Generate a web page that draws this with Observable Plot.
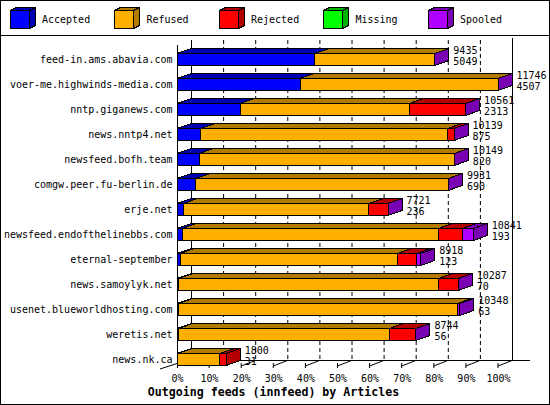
<!DOCTYPE html>
<html>
<head>
<meta charset="utf-8">
<script src="https://cdn.jsdelivr.net/npm/d3@7"></script>
<script src="https://cdn.jsdelivr.net/npm/@observablehq/plot@0.6"></script>
<style>
html, body { margin: 0; padding: 0; background: #fff; }
#wrap { position: relative; width: 550px; height: 405px; overflow: hidden; background: #fff;
  font-family: "DejaVu Sans Mono", "Liberation Mono", monospace; color: #000; }
#border { position: absolute; left: 0; top: 0; width: 550px; height: 405px; box-sizing: border-box;
  border: 1px solid #000; pointer-events: none; z-index: 5; }
#legend { position: absolute; left: 0; top: 0; width: 550px; height: 35px; border-bottom: 1px solid #000; }
.lg-cube { position: absolute; top: 7px; }
.lg-label { position: absolute; top: 14px; font-size: 10px; line-height: 12px; white-space: nowrap; }
#chart { position: absolute; left: 0; top: 36px; }
#title { position: absolute; left: 0; top: 385px; width: 547px; text-align: center; font-weight: bold;
  font-size: 11.6px; line-height: 14px; white-space: nowrap; }
</style>
</head>
<body>
<div id="wrap">
  <div id="legend"></div>
  <div id="chart"></div>
  <div id="title">Outgoing feeds (innfeed) by Articles</div>
  <div id="border"></div>
</div>
<script>
// ---- data ----
const categories = ["Accepted", "Refused", "Rejected", "Missing", "Spooled"];
const colors = ["#0000FF", "#FFAF00", "#FF0000", "#00FF00", "#AF00FF"];
const darkColors = ["#0000B3", "#B37A00", "#B30000", "#00B300", "#7A00B3"];

const feeds = [
  "feed-in.ams.abavia.com",
  "voer-me.highwinds-media.com",
  "nntp.giganews.com",
  "news.nntp4.net",
  "newsfeed.bofh.team",
  "comgw.peer.fu-berlin.de",
  "erje.net",
  "newsfeed.endofthelinebbs.com",
  "eternal-september",
  "news.samoylyk.net",
  "usenet.blueworldhosting.com",
  "weretis.net",
  "news.nk.ca"
];
const totals   = [9435, 11746, 10561, 10139, 10149, 9931, 7721, 10841, 8918, 10287, 10348, 8744, 1800];
const accepted = [5049, 4507, 2313, 875, 820, 690, 236, 193, 123, 70, 63, 56, 31];
const refused  = [4386, 7239, 6187, 9024, 9329, 9241, 6789, 9368, 7938, 9491, 10200, 7712, 1539];
const rejected = [0, 0, 2061, 240, 0, 0, 696, 878, 710, 726, 0, 976, 230];
const missing  = [0, 0, 0, 0, 0, 0, 0, 0, 0, 0, 0, 0, null];
const spooled  = [0, 0, 0, 0, 0, 0, 0, 402, 147, 0, 85, 0, null];
const xTicks   = [0, 10, 20, 30, 40, 50, 60, 70, 80, 90, 100];
const gridTicks = [10, 20, 30, 40, 50, 60, 70, 80, 90];

// ---- legend ----
const legend = document.getElementById("legend");
categories.forEach((c, i) => {
  const left = 9.5 + 104.5 * i;
  const s = d3.create("svg").attr("class", "lg-cube").attr("width", 27).attr("height", 23)
    .style("left", left + "px").attr("shape-rendering", "crispEdges");
  const g = s.append("g").attr("stroke", "#000").attr("stroke-width", 1);
  g.append("polygon").attr("points", "0.5,3.5 19.5,3.5 25.5,0.5 6.5,0.5").attr("fill", darkColors[i]);
  g.append("polygon").attr("points", "19.5,3.5 25.5,0.5 25.5,18.5 19.5,21.5").attr("fill", darkColors[i]);
  g.append("rect").attr("x", 0.5).attr("y", 3.5).attr("width", 19).attr("height", 18).attr("fill", colors[i]);
  legend.appendChild(s.node());
  const lab = document.createElement("div");
  lab.className = "lg-label";
  lab.style.left = (42 + 104.5 * i) + "px";
  lab.textContent = c;
  legend.appendChild(lab);
});

// ---- derived tables ----
const series = [accepted, refused, rejected, missing, spooled];
const maxTotal = d3.max(totals);
const segments = [];
const ends = [];
feeds.forEach((name, r) => {
  let cum = 0, lastK = 0;
  series.forEach((arr, k) => {
    const v = arr[r];
    if (v == null) return;
    lastK = k;
    if (v > 0) segments.push({name, k, x1: cum / maxTotal * 100, x2: (cum + v) / maxTotal * 100});
    cum += v;
  });
  ends.push({name, k: lastK, end: totals[r] / maxTotal * 100, total: totals[r], accepted: accepted[r]});
});

const DX = 14, DY = 5, FT = 6.5, FB = 18.5;

function segRender(index, scales, values) {
  const g = d3.create("svg:g").attr("stroke", "#000").attr("stroke-width", 1).attr("shape-rendering", "crispEdges");
  for (const i of index) {
    const d = segments[i];
    const X1 = values.x1[i], X2 = values.x2[i], Y = values.y[i];
    const t = Y + FT, b = Y + FB;
    g.append("polygon").attr("fill", colors[d.k])
      .attr("points", `${X1},${b} ${X1},${t} ${X2},${t} ${X2},${b}`);
    g.append("polygon").attr("fill", darkColors[d.k])
      .attr("points", `${X1},${t} ${X2},${t} ${X2 + DX},${t - DY} ${X1 + DX},${t - DY}`);
  }
  return g.node();
}
function sideRender(index, scales, values) {
  const g = d3.create("svg:g").attr("stroke", "#000").attr("stroke-width", 1).attr("shape-rendering", "crispEdges");
  for (const i of index) {
    const d = ends[i];
    const E = values.x1[i], Y = values.y[i];
    const t = Y + FT, b = Y + FB;
    g.append("polygon").attr("fill", darkColors[d.k])
      .attr("points", `${E},${t} ${E + DX},${t - DY} ${E + DX},${b - DY} ${E},${b}`);
  }
  return g.node();
}
function floorRender(index, scales) {
  const x = scales.x, y = scales.y;
  const yl = y(feeds[feeds.length - 1]);
  const g = d3.create("svg:g").attr("stroke", "#000").attr("stroke-width", 1).attr("fill", "none");
  const back = yl + 13.5, front = yl + 19;
  g.append("line").attr("x1", x(0) + DX).attr("x2", x(100) + DX + 18).attr("y1", back).attr("y2", back);
  g.append("line").attr("x1", x(0) - 17).attr("y1", yl + 22).attr("x2", x(0)).attr("y2", yl + 16.5);
  for (const k of xTicks.slice(1)) {
    const xf = x(k);
    g.append("line").attr("x1", xf).attr("x2", xf).attr("y1", yl + 16).attr("y2", yl + 21);
    g.append("line").attr("x1", xf).attr("y1", front).attr("x2", xf + DX).attr("y2", back);
  }
  return g.node();
}

const plot = Plot.plot({
  width: 550,
  height: 349,
  marginLeft: 177,
  marginRight: 52,
  marginTop: 11,
  marginBottom: 13,
  x: {domain: [0, 100]},
  y: {domain: feeds, padding: 0, round: false},
  style: {fontFamily: "DejaVu Sans Mono", fontSize: "10px", color: "#000", background: "transparent", overflow: "visible"},
  marks: [
    Plot.ruleX(gridTicks, {dx: DX, stroke: "#000", strokeDasharray: "4,3", insetTop: -7, insetBottom: 11}),
    Plot.ruleX([0], {dx: DX, stroke: "#000", insetTop: -7, insetBottom: 11}),
    Plot.ruleX([100], {dx: DX, stroke: "#000", insetTop: -9, insetBottom: 11}),
    floorRender,
    Plot.ruleX([0], {stroke: "#000", insetTop: -2, insetBottom: 4}),
    Plot.barX(segments, {x1: "x1", x2: "x2", y: "name", render: segRender}),
    Plot.barX(ends, {x1: "end", x2: "end", y: "name", render: sideRender}),
    Plot.text(ends, {x: "end", y: "name", text: d => String(d.total), dx: DX + 4, dy: -9.5, textAnchor: "start", fill: "#000"}),
    Plot.text(ends, {x: "end", y: "name", text: d => String(d.accepted), dx: DX + 4, dy: 2, textAnchor: "start", fill: "#000"}),
    Plot.axisY({tickSize: 0, tickPadding: 5, label: null}),
    Plot.axisX({ticks: xTicks, tickFormat: d => d + "%", tickSize: 0, tickPadding: 2, label: null})
  ]
});
document.getElementById("chart").appendChild(plot);
</script>
</body>
</html>
